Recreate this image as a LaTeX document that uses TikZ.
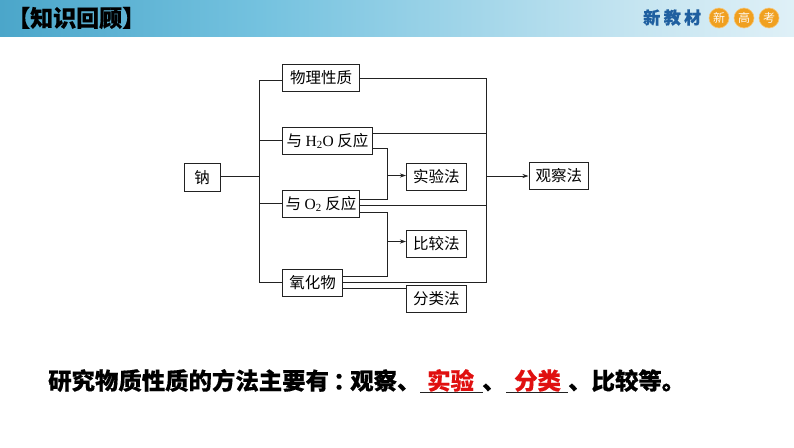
\documentclass[tikz,border=0pt]{standalone}
\usepackage{fontspec}
\setmainfont{Liberation Serif}
\newfontfamily\cjk[BoldFeatures={FakeBold=0.4}]{Noto Sans CJK SC}
\usetikzlibrary{arrows.meta}
\definecolor{ink}{HTML}{222222}
\definecolor{hdA}{HTML}{4BA6CA}
\definecolor{hdB}{HTML}{74C2DF}
\definecolor{hdC}{HTML}{C6E5F1}
\definecolor{hdD}{HTML}{DFF0F7}
\definecolor{badge}{HTML}{F0A020}
\definecolor{brand}{HTML}{1F5FA0}
\definecolor{answer}{HTML}{E01010}
\tikzset{
  box/.style={draw=ink,line width=1pt,fill=white,inner sep=0pt,anchor=north west,font=\fontsize{15.5}{16}\selectfont\cjk},
  wire/.style={draw=ink,line width=1pt},
  arrowwire/.style={wire,-{Stealth[length=6pt,width=4pt]}},
  summary/.style={anchor=west,inner sep=0pt,text height=20pt,text depth=3pt,font=\fontsize{23.4}{24}\selectfont\cjk\bfseries},
  badgedot/.style={circle,fill=badge,draw=badge!60!white,line width=0.6pt,minimum size=20pt,inner sep=0pt,text=white!92!badge,font=\fontsize{12}{12}\selectfont\cjk}
}
\begin{document}
\begin{tikzpicture}[x=1pt,y=-1pt]
\useasboundingbox (0,0) rectangle (794,447);
\shade[left color=hdA,right color=hdB] (0,0) rectangle (260,36);
\shade[left color=hdB,right color=hdC] (260,0) rectangle (640,36);
\shade[left color=hdC,right color=hdD] (640,0) rectangle (794,36);
\node[anchor=west,inner sep=0pt,font=\fontsize{23}{23}\selectfont\cjk\bfseries] (title) at (7,18) {【知识回顾】};
\node[anchor=west,inner sep=0pt,text=brand,font=\fontsize{17}{17}\selectfont\cjk\bfseries] (brandname) at (643,17.5) {新\hspace{3.5pt}教\hspace{3.5pt}材};
\node[badgedot] (b1) at (719,18) {新};
\node[badgedot] (b2) at (744,18) {高};
\node[badgedot] (b3) at (769,18) {考};

\node[box,minimum width=36pt,minimum height=28pt] (na) at (183.5,163) {钠};
\node[box,minimum width=77pt,minimum height=27pt] (phys) at (282,64) {物理性质};
\node[box,minimum width=90pt,minimum height=27pt] (water) at (282,127) {与 {\rmfamily H\textsubscript{2}O} 反应};
\node[box,minimum width=77pt,minimum height=27pt] (oxy) at (282,190) {与 {\rmfamily O\textsubscript{2}} 反应};
\node[box,minimum width=60pt,minimum height=27pt] (oxide) at (282,268.5) {氧化物};
\node[box,minimum width=59.5pt,minimum height=27.5pt] (exp) at (406,162.5) {实验法};
\node[box,minimum width=59.5pt,minimum height=27pt] (cmp) at (406,229.5) {比较法};
\node[box,minimum width=59.5pt,minimum height=26.5pt] (cls) at (406,285) {分类法};
\node[box,minimum width=59.5pt,minimum height=27pt] (obs) at (528.5,162) {观察法};

\coordinate (trunkTop) at (259.5,80);
\coordinate (trunkBot) at (259.5,282);
\coordinate (trunkNa) at (259.5,176.5);
\coordinate (trunkWater) at (259.5,140.5);
\coordinate (trunkOxy) at (259.5,203.5);
\coordinate (sumTop) at (486.5,78);
\coordinate (sumWater) at (486.5,133);
\coordinate (sumOxy) at (486.5,205);
\coordinate (sumBot) at (486.5,282);
\coordinate (sumOut) at (486.5,176);
\coordinate (joinTop) at (387.5,148);
\coordinate (joinMid) at (387.5,199);
\coordinate (joinLow) at (387.5,212);
\coordinate (joinEnd) at (387.5,276);
\coordinate (joinA) at (387.5,175.5);
\coordinate (joinB) at (387.5,241.5);
\coordinate (clsIn) at (406,288.5);

\draw[wire] (na.east |- trunkNa) -- (trunkNa);
\draw[wire] (phys.west |- trunkTop) -- (trunkTop) -- (trunkBot) -- (oxide.west |- trunkBot);
\draw[wire] (water.west |- trunkWater) -- (trunkWater);
\draw[wire] (oxy.west |- trunkOxy) -- (trunkOxy);

\draw[wire] (phys.east |- sumTop) -- (sumTop) -- (sumBot) -- (oxide.east |- sumBot);
\draw[wire] (water.east |- sumWater) -- (sumWater);
\draw[wire] (oxy.east |- sumOxy) -- (sumOxy);

\draw[wire] (water.east |- joinTop) -- (joinTop) -- (joinMid) -- (oxy.east |- joinMid);
\draw[arrowwire] (joinA) -- (exp.west |- joinA);
\draw[wire] (oxy.east |- joinLow) -- (joinLow) -- (joinEnd) -- (oxide.east |- joinEnd);
\draw[arrowwire] (joinB) -- (cmp.west |- joinB);
\draw[wire] (oxide.east |- clsIn) -- (clsIn);
\draw[arrowwire] (sumOut) -- (obs.west |- sumOut);

\node[summary] (s1) at (48,381) {研究物质性质的方法主要有};
\node[summary] (s2) at (333,381) {：};
\node[summary] (s3) at (350,381) {观察、};
\node[summary,text=answer] (a1) at (427,381) {实验};
\node[summary] (s4) at (482,381) {、};
\node[summary,text=answer] (a2) at (514,381) {分类};
\node[summary] (s5) at (568,381) {、比较等。};
\coordinate (u1a) at (420,392.5);\coordinate (u1b) at (483,392.5);
\coordinate (u2a) at (506,392.5);\coordinate (u2b) at (568,392.5);
\draw[wire] (u1a) -- (u1b);
\draw[wire] (u2a) -- (u2b);
\end{tikzpicture}
\end{document}
